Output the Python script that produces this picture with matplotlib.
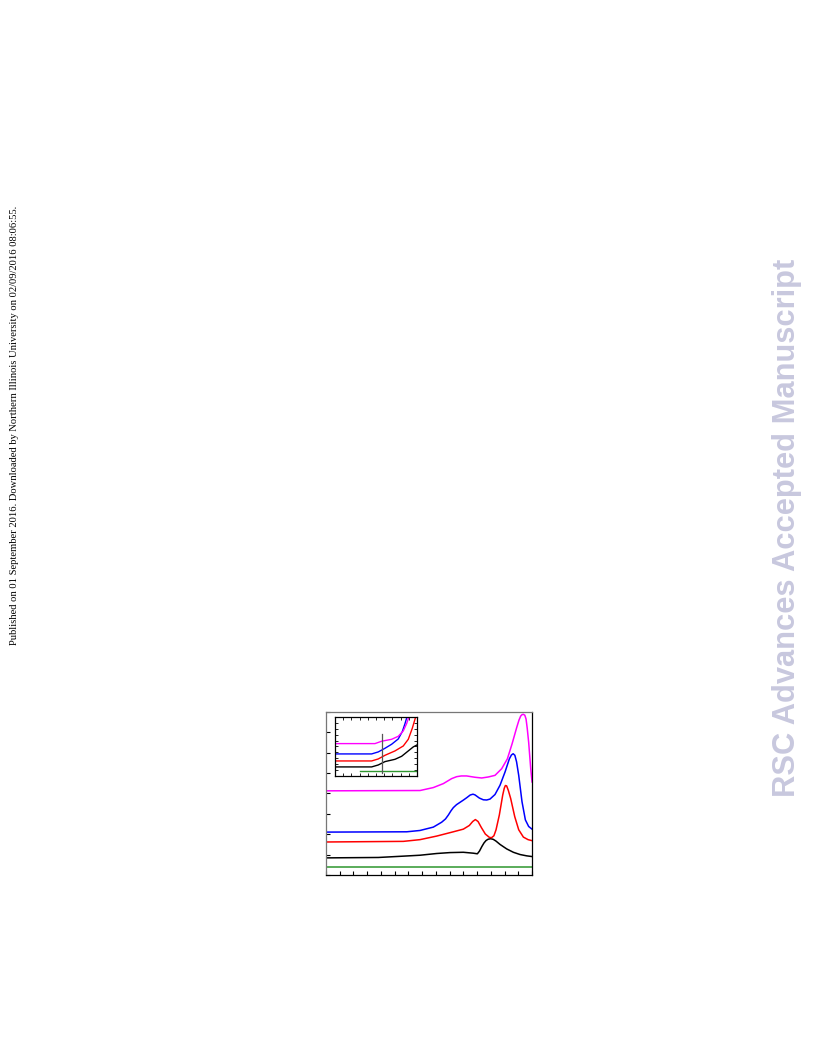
import matplotlib.pyplot as plt
import numpy as np

# main spectra (wavelength in nm, absorbance)
x_black = [250, 326.2, 362.6, 386.9, 411.2, 430.6, 450.0, 464.6, 470.4, 473.5, 477.0, 480.1,
           483.0, 486.0, 489.8, 493.5, 497.5, 503.4, 513.1, 522.8, 532.5, 542.2, 550.0]
y_black = [0.168, 0.172, 0.185, 0.194, 0.211, 0.220, 0.223, 0.214, 0.208, 0.235, 0.280, 0.315,
           0.338, 0.351, 0.356, 0.350, 0.333, 0.300, 0.256, 0.223, 0.201, 0.188, 0.181]

x_red = [250, 362.6, 386.9, 411.2, 435.4, 450.0, 458.7, 463.6, 467.5, 471.4, 476.2, 482.0,
         487.9, 491.0, 494.5, 497.6, 502.4, 507.3, 509.5, 511.2, 513.0, 515.5, 518.9, 524.8,
         530.6, 537.4, 544.2, 550.0]
y_red = [0.324, 0.330, 0.347, 0.382, 0.424, 0.450, 0.486, 0.525, 0.544, 0.525, 0.466, 0.402,
         0.369, 0.366, 0.385, 0.444, 0.589, 0.784, 0.850, 0.878, 0.875, 0.830, 0.751, 0.573,
         0.444, 0.372, 0.347, 0.337]

x_blue = [250, 367.5, 386.9, 406.3, 418.4, 424.0, 428.2, 432.0, 435.4, 440.0, 445.1, 450.0,
          454.8, 460.0, 464.0, 467.0, 473.3, 479.1, 484.0, 488.8, 496.1, 503.4, 510.7, 517.0,
          520.0, 522.5, 525.0, 527.5, 530.6, 535.4, 540.3, 545.1, 550.0]
y_blue = [0.421, 0.424, 0.437, 0.470, 0.518, 0.550, 0.589, 0.630, 0.661, 0.690, 0.713, 0.735,
          0.758, 0.785, 0.793, 0.786, 0.755, 0.738, 0.736, 0.745, 0.790, 0.881, 1.011, 1.140,
          1.178, 1.190, 1.175, 1.110, 0.978, 0.719, 0.541, 0.476, 0.450]

x_mag = [250, 386.9, 406.3, 420.9, 433.0, 440.3, 447.0, 454.8, 467.0, 476.7, 486.4, 496.1,
         505.8, 514.1, 520.9, 527.7, 531.0, 533.5, 535.5, 537.4, 539.5, 541.3, 543.0, 545.1,
         548.1, 550.0]
y_mag = [0.826, 0.829, 0.858, 0.897, 0.946, 0.965, 0.972, 0.972, 0.959, 0.952, 0.962, 0.978,
         1.043, 1.140, 1.286, 1.448, 1.520, 1.560, 1.574, 1.577, 1.568, 1.530, 1.440, 1.302,
         1.043, 0.913]

x_green = [250, 550]
y_green = [0.081, 0.081]

# inset (arbitrary units)
ix_mag = [0, 48.8, 56.9, 69.1, 77.2, 83.3, 87.4, 90.2]
iy_mag = [54.8, 54.8, 58.8, 62.1, 67.2, 76.3, 88.7, 100]
ix_blue = [0, 44.7, 52.8, 61.0, 69.1, 77.2, 82.1, 85.4, 87.8]
iy_blue = [37.3, 37.3, 40.7, 46.9, 53.7, 62.7, 75.1, 88.7, 100]
ix_red = [0, 44.7, 52.8, 61.0, 73.2, 83.3, 89.4, 94.3, 98.4]
iy_red = [25.4, 25.4, 28.8, 35.0, 42.4, 50.8, 62.1, 80.8, 100]
ix_black = [0, 44.7, 52.8, 61.0, 73.2, 81.3, 89.4, 95.5, 100]
iy_black = [15.3, 15.3, 18.6, 24.3, 28.2, 33.3, 42.4, 49.2, 52.5]
ix_green = [30.5, 100]
iy_green = [7.9, 7.9]
ix_vline = 56.9
iy_vline = [4.5, 71.8]

fig = plt.figure(figsize=(8.16, 10.56), dpi=100)

ax = fig.add_axes([0.3995, 0.1714, 0.2525, 0.1544])
lw = 1.1
ax.plot(x_green, y_green, color='#2e962e', lw=lw)
ax.plot(x_black, y_black, color='black', lw=lw)
ax.plot(x_red, y_red, color='#ff0000', lw=lw)
ax.plot(x_blue, y_blue, color='#0000ff', lw=lw)
ax.plot(x_mag, y_mag, color='#ff00ff', lw=lw)
ax.set_xlim(250, 550)
ax.set_ylim(0, 1.6)
ax.set_xticks(np.arange(250, 551, 20))
ax.set_yticks(np.arange(0, 1.61, 0.2))
ax.tick_params(direction='in', length=3, width=0.8, labelbottom=False, labelleft=False)
for s in ['left', 'top']:
    ax.spines[s].set_color('#777777')
for s in ax.spines.values():
    s.set_linewidth(0.9)

ins = fig.add_axes([0.4105, 0.2652, 0.1005, 0.0559])
ilw = 1.0
ins.plot(ix_green, iy_green, color='#2e962e', lw=ilw)
ins.plot(ix_black, iy_black, color='black', lw=ilw)
ins.plot(ix_red, iy_red, color='#ff0000', lw=ilw)
ins.plot(ix_blue, iy_blue, color='#0000ff', lw=ilw)
ins.plot(ix_mag, iy_mag, color='#ff00ff', lw=ilw)
ins.plot([ix_vline, ix_vline], iy_vline, color='#555555', lw=0.9)
ins.set_xlim(0, 100)
ins.set_ylim(0, 100)
ins.set_xticks(np.arange(0, 101, 10))
ins.set_yticks(np.arange(0, 101, 10))
ins.tick_params(direction='in', length=2, width=0.6, top=True, right=True,
                labelbottom=False, labelleft=False)
for s in ins.spines.values():
    s.set_linewidth(0.9)

fig.text(0.0172, 0.5975, 'Published on 01 September 2016. Downloaded by Northern Illinois University on 02/09/2016 08:06:55.',
         rotation=90, ha='center', va='center', fontsize=7.6, family='Liberation Serif')
fig.text(0.9645, 0.5005, 'RSC Advances Accepted Manuscript', rotation=90, ha='center', va='center',
         fontsize=22.2, fontweight='bold', family='Liberation Sans', color='#c8c8de')

fig.savefig('out.png', dpi=100)
